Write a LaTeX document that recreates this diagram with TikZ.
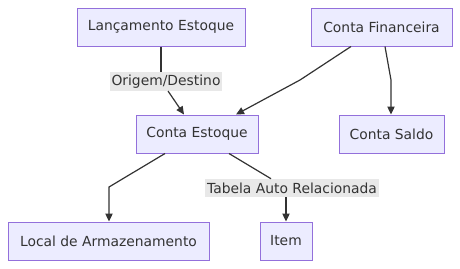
\documentclass[tikz,border=0pt]{standalone}
\usepackage{fontspec}
\setmainfont{DejaVu Sans}
\usetikzlibrary{arrows.meta}
\definecolor{boxfill}{HTML}{ECECFF}
\definecolor{boxline}{HTML}{9370DB}
\definecolor{edge}{HTML}{333333}
\definecolor{lblbg}{HTML}{E8E8E8}
\begin{document}
\begin{tikzpicture}[x=0.75pt,y=-0.75pt,
  entity/.style={draw=boxline,fill=boxfill,line width=0.75pt,minimum height=38*0.75pt,inner sep=0pt,text=edge,font=\fontsize{10.4}{12}\selectfont},
  lbl/.style={fill=lblbg,inner sep=1pt,text=edge,font=\fontsize{10.4}{12}\selectfont},
  conn/.style={draw=edge,line width=0.9pt},
  arr/.style={conn,-{Triangle[length=6pt,width=5.5pt]}}]
\useasboundingbox (0,0) rectangle (460,268);
\node[entity,minimum width=168*0.75pt] (lanc) at (161,27) {Lançamento Estoque};
\node[entity,minimum width=141*0.75pt] (fin) at (381.5,27) {Conta Financeira};
\node[entity,minimum width=122*0.75pt] (est) at (197,134) {Conta Estoque};
\node[entity,minimum width=105*0.75pt] (saldo) at (391.5,134) {Conta Saldo};
\node[entity,minimum width=201*0.75pt] (local) at (108.5,241) {Local de Armazenamento};
\node[entity,minimum width=52*0.75pt] (item) at (286,241) {Item};
\node[lbl,minimum width=112*0.75pt,minimum height=19*0.75pt] (l1) at (166,81.5) {Origem/Destino};
\node[lbl,minimum width=174*0.75pt,minimum height=18*0.75pt] (l2) at (292,188) {Tabela Auto Relacionada};
\coordinate (f1) at (300,80);
\coordinate (s1) at (391,80);
\coordinate (c1) at (109,187);
% edges
\draw[conn] (lanc.south) -- (l1.north -| lanc.south);
\draw[arr] (168,91) -- (est.north -| 184,0);
\draw[arr] (fin.south -| 351,0) -- (f1) -- (est.north -| 236,0);
\draw[arr] (fin.south -| 385,0) -- (s1) -- (saldo.north -| s1);
\draw[arr] (est.south -| 165,0) -- (c1) -- (local.north -| c1);
\draw[conn] (est.south -| 229,0) -- (l2.north -| 271,0);
\draw[arr] (l2.south -| item.north) -- (item.north);
\end{tikzpicture}
\end{document}
